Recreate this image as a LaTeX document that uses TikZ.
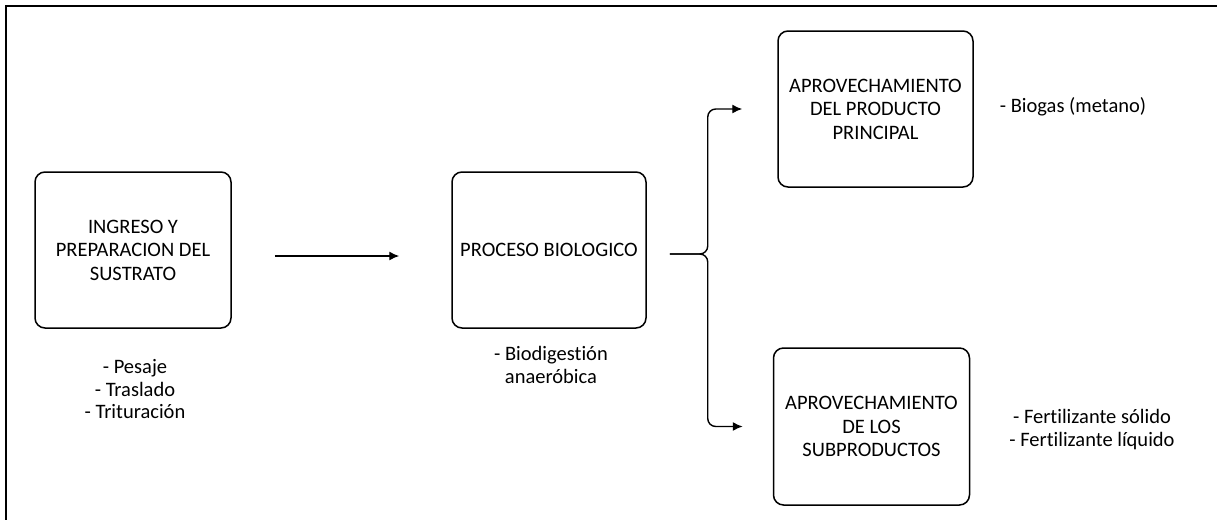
\documentclass[tikz,border=0pt]{standalone}
\usepackage{fontspec}
\setmainfont{Carlito}[Ligatures=NoCommon]
\usepackage{tikz}
\usetikzlibrary{
    arrows.meta,
    positioning
}

\tikzset{
    caja/.style={draw, line width=0.75pt, rounded corners=5pt, align=center,
        minimum width=98pt, minimum height=78pt, inner sep=0pt,
        font=\fontsize{10.25}{11.75}\selectfont},
    nota/.style={align=center, inner sep=0pt, font=\fontsize{10.25}{11.25}\selectfont},
    flecha/.style={-{Latex[length=5pt,width=4.5pt]}, line width=0.7pt}
}

\begin{document}
\begin{tikzpicture}[x=0.5pt, y=-0.5pt]
        \useasboundingbox (0, 0) rectangle (1217, 520);
        \clip (0, 0) rectangle (1217, 520);
        % marco
        \draw [line width=1.1pt] (6, 540) -- (6, 6) -- (1240, 6);
        % cajas
        \node[caja] (ingreso) at (133, 250) {INGRESO Y\\PREPARACION DEL\\SUSTRATO};
        \node[caja, minimum width=97pt] (proceso) at (549, 250) {PROCESO BIOLOGICO};
        \node[caja, minimum width=97.5pt] (principal) at (875.5, 109) {APROVECHAMIENTO\\DEL PRODUCTO\\PRINCIPAL};
        \node[caja, minimum height=78.5pt] (subproductos) at (871.5, 426.5) {APROVECHAMIENTO\\DE LOS\\SUBPRODUCTOS};
        % notas
        \node[nota] (n1) at (135, 389.5) {- Pesaje\\- Traslado\\- Trituración};
        \node[nota] (n2) at (551, 365) {- Biodigestión\\anaeróbica};
        \node[nota] (n3) at (1073, 107) {- Biogas (metano)};
        \node[nota] (n4) at (1092, 429.5) {- Fertilizante sólido\\- Fertilizante líquido};
        % conectores
        \draw [flecha, shorten <=21.5pt, shorten >=26pt]
            ([yshift=-3pt]ingreso.east) -- ([yshift=-3pt]proceso.west);
        \draw [flecha, rounded corners=4pt, shorten >=17.5pt]
            ([xshift=11.5pt, yshift=-2pt]proceso.east) -- ++(19pt, 0) |- (principal.west);
        \draw [flecha, rounded corners=4pt, shorten >=15pt]
            ([xshift=11.5pt, yshift=-2pt]proceso.east) -- ++(19pt, 0) |- (subproductos.west);
\end{tikzpicture}
\end{document}
